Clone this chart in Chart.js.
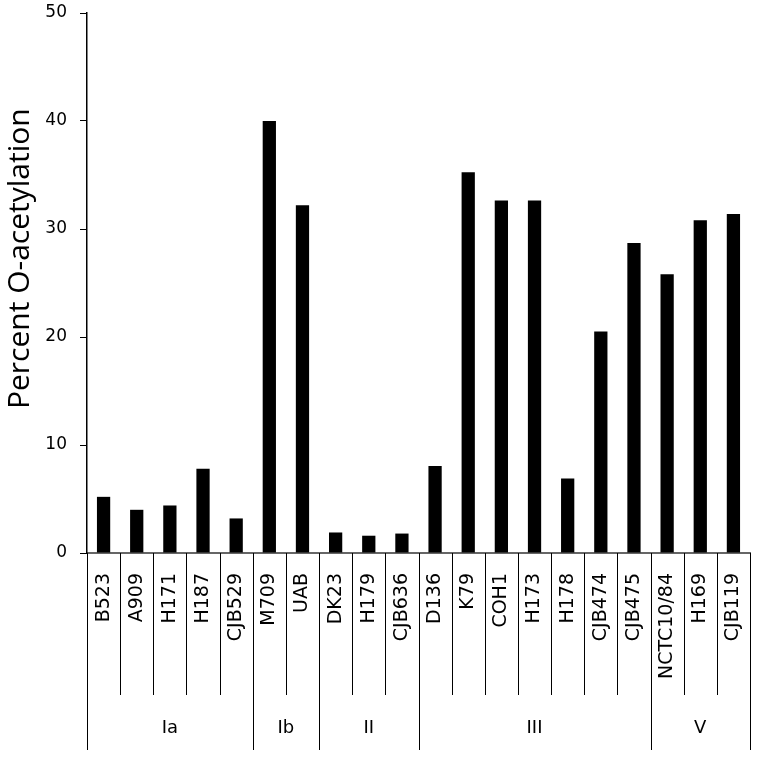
<!DOCTYPE html>
<html>
<head>
<meta charset="utf-8">
<script src="https://cdn.jsdelivr.net/npm/chart.js@4"></script>
<style>
  html, body { margin: 0; padding: 0; background: #fff; }
  #wrap { width: 758px; height: 758px; }
</style>
</head>
<body>
<div id="wrap"><canvas id="acetylChart"></canvas></div>
<script>
const strains = ['B523', 'A909', 'H171', 'H187', 'CJB529', 'M709', 'UAB', 'DK23', 'H179', 'CJB636',
    'D136', 'K79', 'COH1', 'H173', 'H178', 'CJB474', 'CJB475', 'NCTC10/84', 'H169', 'CJB119']
const acetylation = [5.2, 4.0, 4.4, 7.8, 3.2, 40.0, 32.2, 1.9, 1.6, 1.8,
    8.05, 35.25, 32.65, 32.65, 6.9, 20.5, 28.7, 25.8, 30.8, 31.4]
const serotypes = ['Ia', 'Ib', 'II', 'III', 'V']
const serotypeSizes = [5, 2, 3, 7, 3]
const yTicks = [0, 10, 20, 30, 40, 50]

// separator lines + serotype labels under the axis, plus the y title
const groupPlugin = {
    id: 'groups',
    afterDraw(chart) {
        const ctx = chart.ctx
        const x = chart.scales.x
        const area = chart.chartArea
        const half = (x.getPixelForValue(1) - x.getPixelForValue(0)) / 2
        const lineBottom = chart.height - 8
        const shortBottom = lineBottom - 55
        const groupEdges = [0]
        serotypeSizes.forEach(n => groupEdges.push(groupEdges[groupEdges.length - 1] + n))

        ctx.save()
        ctx.strokeStyle = '#000'
        ctx.lineWidth = 1
        for (let i = 0; i <= strains.length; i++) {
            const px = Math.round(x.getPixelForValue(i) - half) + 0.5
            ctx.beginPath()
            ctx.moveTo(px, area.bottom)
            ctx.lineTo(px, groupEdges.includes(i) ? lineBottom : shortBottom)
            ctx.stroke()
        }

        ctx.fillStyle = '#000'
        ctx.font = '18px "DejaVu Sans"'
        ctx.textAlign = 'center'
        ctx.textBaseline = 'middle'
        serotypes.forEach((name, g) => {
            const left = x.getPixelForValue(groupEdges[g]) - half
            const right = x.getPixelForValue(groupEdges[g + 1]) - half
            ctx.fillText(name, (left + right) / 2, (shortBottom + lineBottom) / 2 + 6)
        })

        ctx.translate(20, area.top + (area.bottom - area.top) * 0.455)
        ctx.rotate(-Math.PI / 2)
        ctx.font = '30px "Open Sans"'
        ctx.fillText('Percent O-acetylation', 0, 0)
        ctx.restore()
    }
}

const config = {
    type: 'bar',
    data: {
        labels: strains,
        datasets: [{
            data: acetylation,
            backgroundColor: '#000',
            borderWidth: 0,
            barPercentage: 0.4,
            categoryPercentage: 1,
        }]
    },
    options: {
        responsive: true,
        maintainAspectRatio: false,
        animation: false,
        layout: {
            padding: { top: 13, right: 8, left: 0, bottom: 0 }
        },
        scales: {
            x: {
                grid: { display: false },
                border: { display: true, color: '#666', width: 2 },
                ticks: {
                    color: '#000',
                    minRotation: 90,
                    maxRotation: 90,
                    autoSkip: false,
                    padding: 12,
                    font: { family: 'DejaVu Sans', size: 19 }
                },
                afterFit: (scale) => {
                    scale.height = 205
                    scale.paddingLeft = 0
                    scale.paddingRight = 0
                }
            },
            y: {
                min: 0,
                max: 50,
                afterBuildTicks: (scale) => { scale.ticks = yTicks.map(v => ({ value: v })) },
                grid: {
                    drawOnChartArea: false,
                    drawTicks: true,
                    tickLength: 7,
                    color: '#000'
                },
                border: { display: true, color: '#000', width: 1.5 },
                ticks: {
                    color: '#000',
                    padding: 13,
                    font: { family: 'DejaVu Sans', size: 17 }
                },
                afterFit: (scale) => {
                    scale.width = 87
                    scale.paddingTop = 0
                    scale.paddingBottom = 0
                }
            }
        },
        plugins: {
            legend: { display: false },
            tooltip: { enabled: false }
        }
    },
    plugins: [groupPlugin]
}

const ctx = document.getElementById('acetylChart').getContext('2d')
new Chart(ctx, config)
</script>
</body>
</html>
